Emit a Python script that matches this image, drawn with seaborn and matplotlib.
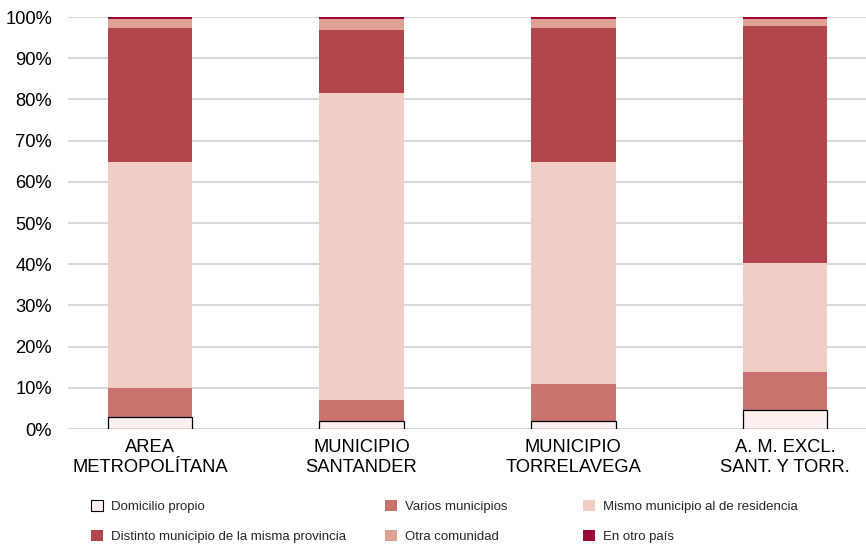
import matplotlib
matplotlib.use("Agg")
import matplotlib.pyplot as plt
import seaborn as sns
import pandas as pd
import numpy as np
from matplotlib.patches import Patch

categories = ["AREA\nMETROPOLÍTANA", "MUNICIPIO\nSANTANDER", "MUNICIPIO\nTORRELAVEGA", "A. M. EXCL.\nSANT. Y TORR."]
series_names = ["Domicilio propio", "Varios municipios", "Mismo municipio al de residencia",
                "Distinto municipio de la misma provincia", "Otra comunidad", "En otro país"]
domicilio = [2.8, 1.9, 1.9, 4.6]
varios = [7.1, 5.2, 9.1, 9.3]
mismo = [55.0, 74.4, 53.7, 26.3]
distinto = [32.4, 15.3, 32.6, 57.5]
otra = [2.3, 2.8, 2.3, 1.9]
otro_pais = [0.4, 0.4, 0.4, 0.4]
colors = ["#FBF0EE", "#C8736E", "#F0CEC6", "#B1474D", "#DFA096", "#9B0B34"]
yticks = [0, 10, 20, 30, 40, 50, 60, 70, 80, 90, 100]

series = [domicilio, varios, mismo, distinto, otra, otro_pais]
df = pd.DataFrame({"cat": categories})
cum = np.zeros(len(categories))
for name, vals in zip(series_names, series):
    cum = cum + np.array(vals)
    df[name] = cum.copy()
# normalise so the top is exactly 100
tot = df[series_names[-1]].values
for name in series_names:
    df[name] = df[name] / tot * 100

sns.set_theme(style="white")
plt.rcParams["font.family"] = ["Liberation Sans", "DejaVu Sans"]

fig = plt.figure(figsize=(8.66, 5.48), dpi=100)
ax = fig.add_axes([68 / 866, 1 - 429 / 548, 1 - 68 / 866, (429 - 17) / 548])

for i in range(len(series_names) - 1, -1, -1):
    name = series_names[i]
    edge = "#000000" if i == 0 else "none"
    lw = 0.9 if i == 0 else 0
    sns.barplot(data=df, x="cat", y=name, color=colors[i], saturation=1, width=0.40,
                edgecolor=edge, linewidth=lw, ax=ax, zorder=3 + (len(series_names) - i))

ax.set_xlim(-0.387, 3.383)
ax.set_ylim(0, 100)
ax.set_yticks(yticks)
ax.set_yticklabels([f"{t}%" for t in yticks])
ax.set_xlabel("")
ax.set_ylabel("")
ax.grid(axis="y", color="#D9D9D9", linewidth=1.5, zorder=0)
ax.grid(axis="x", visible=False)
ax.set_axisbelow(True)
for s in ax.spines.values():
    s.set_visible(False)
ax.tick_params(axis="y", length=0, pad=11.5, labelsize=13.2, colors="#000000")
ax.tick_params(axis="x", length=0, pad=7.5, labelsize=13.2, colors="#000000")
for lab in ax.get_xticklabels():
    lab.set_linespacing(1.2)

handles = []
for i, name in enumerate(series_names):
    if i == 0:
        handles.append(Patch(facecolor=colors[i], edgecolor="#000000", linewidth=0.8, label=name))
    else:
        handles.append(Patch(facecolor=colors[i], edgecolor="none", label=name))

cols = [[0, 3], [1, 4], [2, 5]]
xs = [91, 385, 583]
for c, x in zip(cols, xs):
    leg = fig.legend(handles=[handles[j] for j in c], loc="center left",
                     bbox_to_anchor=(x / 866, 1 - 521.5 / 548), frameon=False,
                     fontsize=9.5, handlelength=0.9, handleheight=0.9,
                     handletextpad=0.65, labelspacing=1.3, borderpad=0, borderaxespad=0)

fig.savefig("out.png", dpi=100)
